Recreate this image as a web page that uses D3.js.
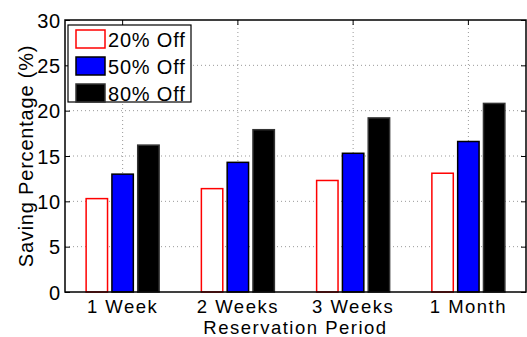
<!DOCTYPE html>
<html>
<head>
<style>
body { margin: 0; background: #fff; }
text { font-family: "Liberation Sans", Arial, sans-serif; fill: #000; }
.lbl { font-size: 20px; letter-spacing: 0.8px; }
.xlbl { font-size: 18.5px; letter-spacing: 1.5px; }
.grid line { stroke: #999; stroke-dasharray: 1,3; stroke-width: 1; }
</style>
<script src="https://cdn.jsdelivr.net/npm/d3@7"></script>
</head>
<body>
<svg width="527" height="337"></svg>
<script>
var periods = ["1 Week", "2 Weeks", "3 Weeks", "1 Month"];
var seriesNames = ["20% Off", "50% Off", "80% Off"];
var off20 = [10.3, 11.4, 12.3, 13.1];
var off50 = [13.0, 14.3, 15.3, 16.6];
var off80 = [16.2, 17.9, 19.2, 20.8];
var yTicks = [0, 5, 10, 15, 20, 25, 30];

var styles = [
  {fill: "#fff", stroke: "#ff0000"},
  {fill: "#0000ff", stroke: "#000"},
  {fill: "#000", stroke: "#333"}
];

var svg = d3.select("svg"),
    margin = {top: 20, right: 1, bottom: 45, left: 65},
    width = +svg.attr("width") - margin.left - margin.right,
    height = +svg.attr("height") - margin.top - margin.bottom;

var g = svg.append("g")
    .attr("transform", "translate(" + margin.left + "," + margin.top + ")");

var x = d3.scaleBand().domain(periods).range([0, width]).padding(0);
var xi = d3.scaleBand().domain(seriesNames).range([-36.5, 36.5]).paddingInner(0.17).paddingOuter(0);
var y = d3.scaleLinear().domain([0, 30]).range([height, 0]);

var data = periods.map(function(p, i) {
  return {period: p, values: [off20[i], off50[i], off80[i]]};
});

// grid
var grid = g.append("g").attr("class", "grid");
grid.selectAll(".hg")
  .data(yTicks.slice(1, -1))
  .enter().append("line")
    .attr("x1", 0).attr("x2", width)
    .attr("y1", function(d) { return y(d); })
    .attr("y2", function(d) { return y(d); });
grid.selectAll(".vg")
  .data(periods)
  .enter().append("line")
    .attr("y1", 0).attr("y2", height)
    .attr("x1", function(d) { return x(d) + x.bandwidth() / 2; })
    .attr("x2", function(d) { return x(d) + x.bandwidth() / 2; });

// bars
var groups = g.selectAll(".group")
  .data(data)
  .enter().append("g")
    .attr("transform", function(d) { return "translate(" + (x(d.period) + x.bandwidth() / 2) + ",0)"; });

groups.selectAll("rect")
  .data(function(d) { return d.values.map(function(v, k) { return {v: v, k: k}; }); })
  .enter().append("rect")
    .attr("x", function(d) { return xi(seriesNames[d.k]); })
    .attr("y", function(d) { return y(d.v); })
    .attr("width", xi.bandwidth())
    .attr("height", function(d) { return height - y(d.v); })
    .attr("fill", function(d) { return styles[d.k].fill; })
    .attr("stroke", function(d) { return styles[d.k].stroke; })
    .attr("stroke-width", 1.5);

// axes
var axisL = d3.axisLeft(y).tickValues(yTicks).tickSize(-5).tickPadding(4);
var axisR = d3.axisRight(y).tickValues(yTicks).tickSize(-5).tickFormat("");
var axisB = d3.axisBottom(x).tickSize(0);
var axisT = d3.axisTop(x).tickSize(-5).tickFormat("");

g.append("g").call(axisL)
  .call(function(s) { s.select(".domain").remove(); })
  .selectAll("text").attr("class", "lbl").attr("dy", "0.35em");
g.append("g").attr("transform", "translate(" + width + ",0)").call(axisR)
  .call(function(s) { s.select(".domain").remove(); });
g.append("g").attr("transform", "translate(0," + height + ")").call(axisB)
  .call(function(s) { s.select(".domain").remove(); })
  .selectAll("text").attr("class", "xlbl").attr("y", 21).attr("dy", 0);
g.append("g").call(axisT)
  .call(function(s) { s.select(".domain").remove(); });

g.selectAll(".tick line").attr("stroke", "#000");

g.append("rect")
  .attr("width", width).attr("height", height)
  .attr("fill", "none").attr("stroke", "#000").attr("stroke-width", 1.5);

// labels
svg.append("text")
  .attr("class", "xlbl")
  .attr("x", margin.left + width / 2)
  .attr("y", 334)
  .attr("text-anchor", "middle")
  .text("Reservation Period");

svg.append("text")
  .attr("class", "lbl")
  .attr("transform", "translate(33," + (margin.top + height / 2) + ") rotate(-90)")
  .attr("text-anchor", "middle")
  .text("Saving Percentage (%)");

// legend
var lg = svg.append("g").attr("transform", "translate(68,25)");
lg.append("rect")
  .attr("width", 123).attr("height", 77)
  .attr("fill", "#fff").attr("stroke", "#000").attr("stroke-width", 1.2);
seriesNames.forEach(function(name, i) {
  lg.append("rect")
    .attr("x", 8).attr("y", 5 + i * 27)
    .attr("width", 29).attr("height", 18)
    .attr("fill", styles[i].fill)
    .attr("stroke", styles[i].stroke)
    .attr("stroke-width", 1.5);
  lg.append("text")
    .attr("class", "lbl")
    .attr("x", 40).attr("y", 21.5 + i * 27)
    .text(name);
});
</script>
</body>
</html>
